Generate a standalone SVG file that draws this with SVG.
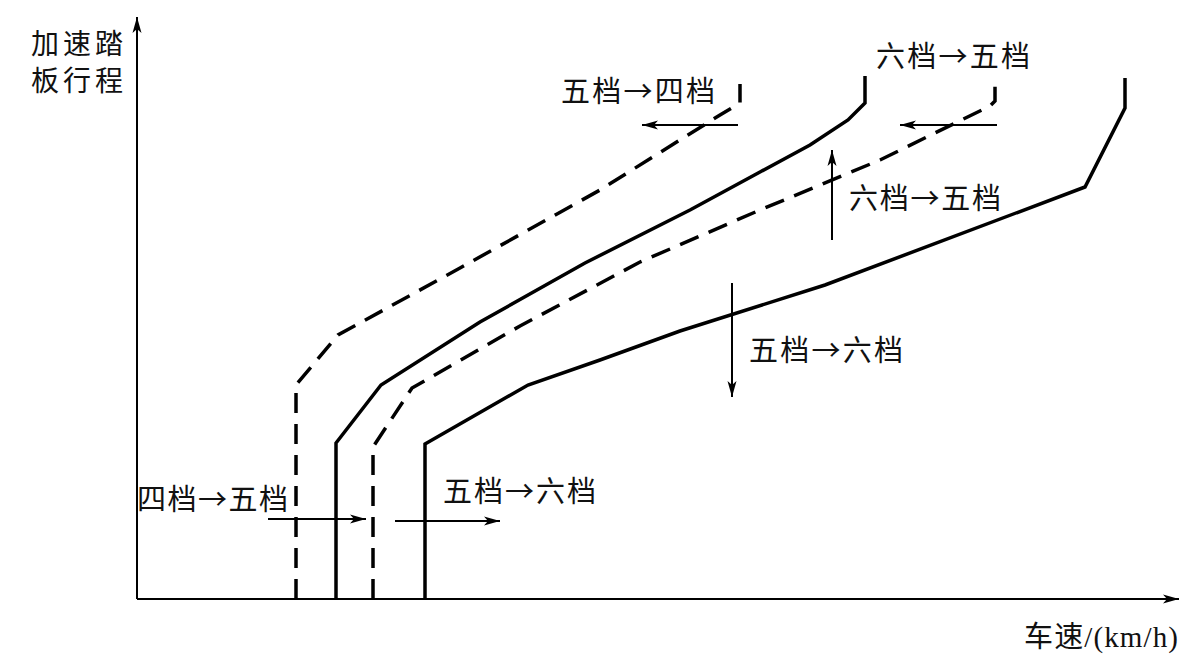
<svg xmlns="http://www.w3.org/2000/svg" width="1193" height="664" viewBox="0 0 1193 664">
<defs>
<style>
.ax{stroke:#000;stroke-width:2;fill:none}
.cv{stroke:#000;stroke-width:3.5;fill:none;stroke-linejoin:miter}
.ds{stroke-dasharray:20 11}
.ar{stroke:#000;stroke-width:2;fill:none}
.t{font-family:"Noto Sans CJK SC","Noto Sans CJK JP",sans-serif;font-size:29px;fill:#111}
.tl{font-family:"Liberation Serif","Noto Sans CJK SC",serif;font-size:29px;fill:#111}
.ty{font-family:"Liberation Serif","Noto Sans CJK SC",serif;font-size:28px;fill:#111}
</style>
<marker id="ah" markerUnits="userSpaceOnUse" markerWidth="20" markerHeight="12" refX="16" refY="6" orient="auto" viewBox="0 0 20 12">
<path d="M0,1.5 L16,6 L0,10.5 L4,6 z" fill="#000"/>
</marker>
</defs>
<rect width="1193" height="664" fill="#fff"/>
<g id="axes">
<line class="ax" x1="137" y1="599" x2="137" y2="17" marker-end="url(#ah)"/>
<line class="ax" x1="137" y1="599" x2="1179" y2="599" marker-end="url(#ah)"/>
</g>
<g id="curves">
<polyline id="c-5to4" class="cv ds" points="296,599 296,385 338,335 460,268 600,190 720,115 740,103 740,84"/>
<polyline id="c-4to5" class="cv" points="336,599 336,443 381,385 480,322 585,263 690,210 760,172 810,145 848,120 865,103 865,76"/>
<polyline id="c-6to5" class="cv ds" points="373,599 373,447 412,388 520,326 640,262 760,210 880,160 990,106 995,101 995,78"/>
<polyline id="c-5to6" class="cv" points="425,599 425,444 528,385 600,360 680,331 825,285 1085,187 1125,108 1125,78"/>
</g>
<g id="connectors">
<line class="ar" x1="268" y1="519" x2="366" y2="519" marker-end="url(#ah)"/>
<line class="ar" x1="395" y1="521" x2="500" y2="521" marker-end="url(#ah)"/>
<line class="ar" x1="738" y1="125" x2="642" y2="125" marker-end="url(#ah)"/>
<line class="ar" x1="997" y1="125" x2="900" y2="125" marker-end="url(#ah)"/>
<line class="ar" x1="832" y1="240" x2="832" y2="150" marker-end="url(#ah)"/>
<line class="ar" x1="732" y1="283" x2="732" y2="397" marker-end="url(#ah)"/>
</g>
<g id="labels">
<g id="ylabel"><text class="ty" x="31" y="54"><tspan x="31" y="54" textLength="92" lengthAdjust="spacing">加速踏</tspan><tspan x="31" y="91" textLength="92" lengthAdjust="spacing">板行程</tspan></text></g>
<g id="l-5to4"><text class="t" x="561" y="102" textLength="154" lengthAdjust="spacing">五档→四档</text></g>
<g id="l-6to5a"><text class="t" x="876" y="67" textLength="154" lengthAdjust="spacing">六档→五档</text></g>
<g id="l-6to5b"><text class="t" x="849" y="209" textLength="152" lengthAdjust="spacing">六档→五档</text></g>
<g id="l-5to6a"><text class="t" x="749" y="361" textLength="154" lengthAdjust="spacing">五档→六档</text></g>
<g id="l-4to5"><text class="t" x="137" y="510" textLength="151" lengthAdjust="spacing">四档→五档</text></g>
<g id="l-5to6b"><text class="t" x="443" y="502" textLength="153" lengthAdjust="spacing">五档→六档</text></g>
<g id="xlabel"><text class="tl" x="1024" y="647" textLength="154" lengthAdjust="spacing">车速/(km/h)</text></g>
</g>
</svg>
